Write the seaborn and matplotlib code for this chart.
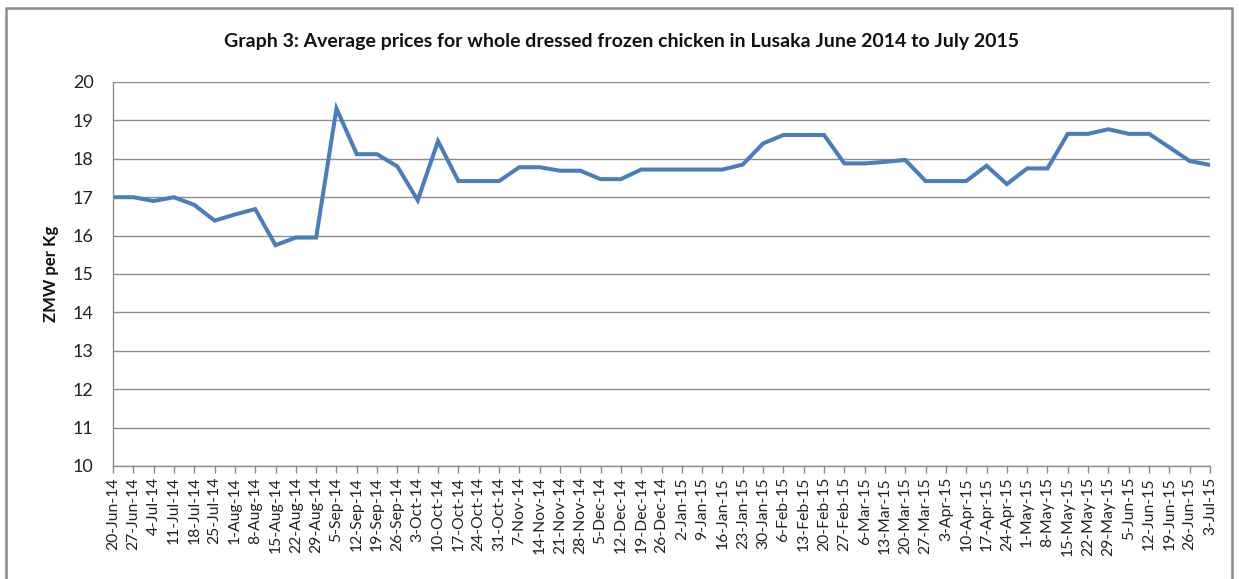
import matplotlib
matplotlib.use("Agg")
import matplotlib.pyplot as plt
from matplotlib.patches import Rectangle
import seaborn as sns
import pandas as pd

dates = ["20-Jun-14", "27-Jun-14", "4-Jul-14", "11-Jul-14", "18-Jul-14", "25-Jul-14",
         "1-Aug-14", "8-Aug-14", "15-Aug-14", "22-Aug-14", "29-Aug-14", "5-Sep-14",
         "12-Sep-14", "19-Sep-14", "26-Sep-14", "3-Oct-14", "10-Oct-14", "17-Oct-14",
         "24-Oct-14", "31-Oct-14", "7-Nov-14", "14-Nov-14", "21-Nov-14", "28-Nov-14",
         "5-Dec-14", "12-Dec-14", "19-Dec-14", "26-Dec-14", "2-Jan-15", "9-Jan-15",
         "16-Jan-15", "23-Jan-15", "30-Jan-15", "6-Feb-15", "13-Feb-15", "20-Feb-15",
         "27-Feb-15", "6-Mar-15", "13-Mar-15", "20-Mar-15", "27-Mar-15", "3-Apr-15",
         "10-Apr-15", "17-Apr-15", "24-Apr-15", "1-May-15", "8-May-15", "15-May-15",
         "22-May-15", "29-May-15", "5-Jun-15", "12-Jun-15", "19-Jun-15", "26-Jun-15",
         "3-Jul-15"]

prices = [17.00, 17.00, 16.90, 17.00, 16.80, 16.39, 16.55, 16.69, 15.75, 15.95,
          15.95, 19.31, 18.12, 18.12, 17.80, 16.92, 18.46, 17.42, 17.42, 17.42,
          17.78, 17.78, 17.69, 17.69, 17.47, 17.47, 17.72, 17.72, 17.72, 17.72,
          17.72, 17.85, 18.40, 18.62, 18.62, 18.62, 17.88, 17.88, 17.92, 17.97,
          17.42, 17.42, 17.42, 17.82, 17.34, 17.75, 17.75, 18.65, 18.65, 18.77,
          18.65, 18.65, 18.30, 17.94, 17.84]

yticks = [10, 11, 12, 13, 14, 15, 16, 17, 18, 19, 20]

title = "Graph 3: Average prices for whole dressed frozen chicken in Lusaka June 2014 to July 2015"
ylabel = "ZMW per Kg"

sns.set_theme(style="white")
plt.rcParams['font.family'] = ['Lato', 'DejaVu Sans']

df = pd.DataFrame({"idx": range(len(dates)), "date": dates, "price": prices})

fig = plt.figure(figsize=(12.39, 5.79), dpi=100)
ax = fig.add_axes([113 / 1239, 1 - 466 / 579, (1210 - 113) / 1239, (466 - 82) / 579])

sns.lineplot(data=df, x="idx", y="price", ax=ax, color="#4A7EBB", linewidth=2.9,
             solid_joinstyle="miter")

ax.set_xlim(0, len(dates) - 1)
ax.set_ylim(10, 20)
ax.set_yticks(yticks)
ax.set_yticklabels([str(v) for v in yticks], fontsize=13, color="#222222")
ax.set_xticks(range(len(dates)))
ax.set_xticklabels(dates, rotation=90, fontsize=11.3, color="#222222")
ax.tick_params(axis="x", length=5, width=1, color="#888888", direction="out", pad=3, bottom=True)
ax.tick_params(axis="y", length=0, pad=14)
ax.set_xlabel("")
ax.set_ylabel(ylabel, fontsize=12, fontweight="bold", color="#111111", labelpad=10)
ax.yaxis.grid(True, color="#8c8c8c", linewidth=1)
ax.xaxis.grid(False)
ax.set_axisbelow(True)
for s in ["top", "right"]:
    ax.spines[s].set_visible(False)
for s in ["left", "bottom"]:
    ax.spines[s].set_color("#8c8c8c")
    ax.spines[s].set_linewidth(1)

fig.text(622 / 1239, 1 - 41 / 579, title, ha="center", va="center",
         fontsize=14, fontweight="bold", color="#111111")

fig.add_artist(Rectangle((6 / 1239, -0.05), (1232 - 6) / 1239, 1.05 - 8 / 579,
                         transform=fig.transFigure, fill=False,
                         edgecolor="#8a8a8a", linewidth=1.8))

fig.savefig("out.png", dpi=100)
